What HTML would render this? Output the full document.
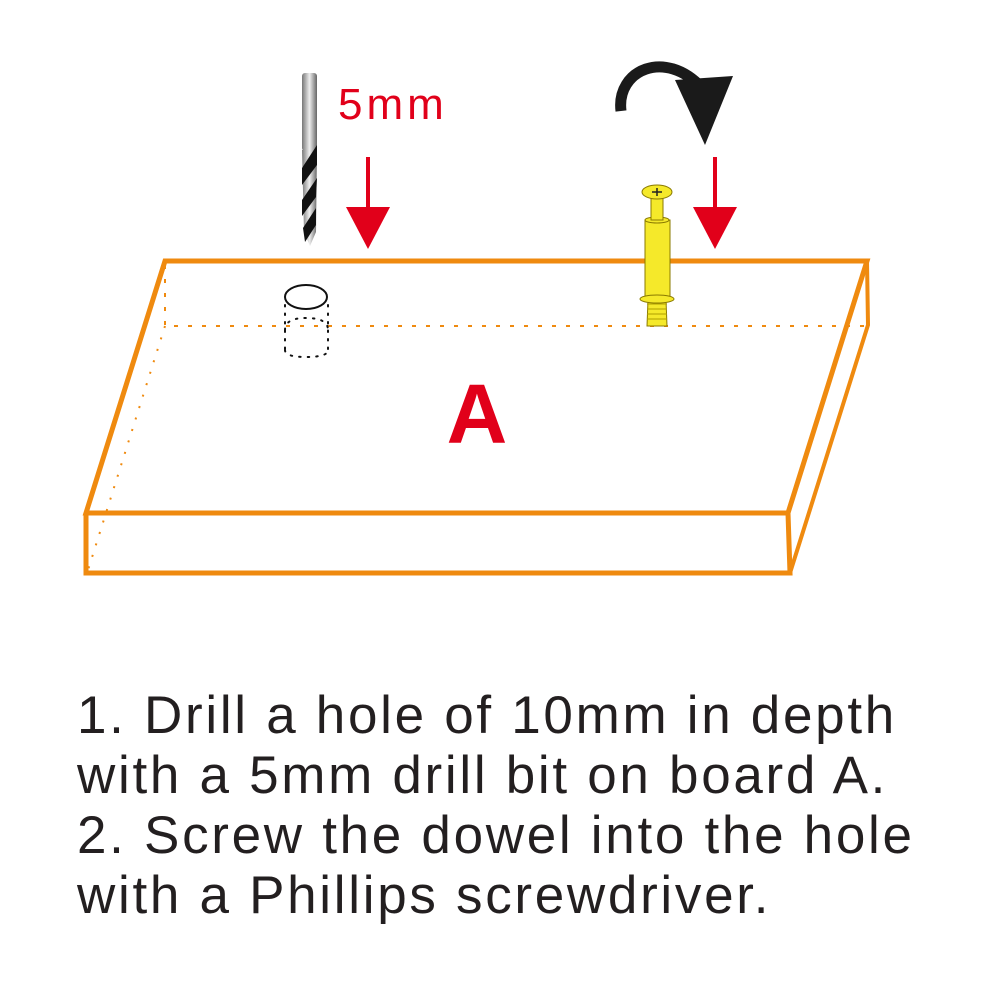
<!DOCTYPE html>
<html><head><meta charset="utf-8"><style>
html,body{margin:0;padding:0;background:#fff;}
body{width:1000px;height:1000px;position:relative;overflow:hidden;}
.t{position:absolute;left:77px;font-family:"Liberation Sans",sans-serif;font-size:53px;line-height:60px;color:#231f20;white-space:nowrap;letter-spacing:2.7px;}
</style></head><body>
<svg width="1000" height="1000" style="position:absolute;left:0;top:0">
<g fill="none" stroke="#ef8a0f" stroke-linejoin="miter">
 <path d="M165 265 L165 326 L867 326" stroke-width="2" stroke-dasharray="4 10"/>
 <path d="M165 326 L88 570" stroke-width="2" stroke-dasharray="2 10"/>
 <path d="M165 261 L867 261 L788 513 L86 513 Z" stroke-width="5"/>
 <path d="M86 513 L86 573 L790 573 L788 513" stroke-width="5"/>
 <path d="M867 261 L868 325 L790 573" stroke-width="4"/>
</g>
<ellipse cx="306" cy="297" rx="21" ry="12" fill="#fff" stroke="#111" stroke-width="2"/>
<g fill="none" stroke="#111" stroke-width="2" stroke-dasharray="1.5 7" stroke-linecap="round">
 <path d="M285 305 L285 350"/><path d="M328 305 L328 350"/>
 <path d="M285 330 Q285 318 306 318 Q328 318 328 330"/>
 <path d="M285 350 Q285 357 306 357 Q328 357 328 350"/>
</g>
<defs><linearGradient id="g" x1="0" x2="1"><stop offset="0" stop-color="#777"/><stop offset="0.5" stop-color="#eee"/><stop offset="1" stop-color="#666"/></linearGradient></defs>
<rect x="302" y="73" width="15" height="78" rx="3" fill="url(#g)"/>
<path d="M302 150 L317 150 L316 232 L310 246 L304 232 Z" fill="url(#g)"/>
<path d="M317 145 L302 168 L302 185 L317 165Z M317 178 L302 200 L302 216 L316 197Z M316 208 L303 228 L305 242 L316 225Z" fill="#111"/>
<text x="338" y="119" font-family="Liberation Sans,sans-serif" font-size="44" letter-spacing="4" fill="#e1001a">5mm</text>
<g fill="#e1001a"><rect x="366" y="157" width="4" height="52"/><path d="M346 207 L390 207 L368 249Z"/>
<rect x="713" y="157" width="4" height="52"/><path d="M693 207 L737 207 L715 249Z"/></g>
<path d="M621 111 C616 70 665 48 702 88" fill="none" stroke="#1a1a1a" stroke-width="11"/>
<path d="M675 80 L733 76 L705 145 Z" fill="#1a1a1a"/>
<g fill="#f5e92a" stroke="#8a7a00" stroke-width="1">
 <path d="M648 300 L666 300 L667 326 L647 326Z"/>
 <path d="M647 304 L667 304 M647 309 L667 309 M647 314 L667 314 M647 319 L667 319" stroke="#b0a000"/>
 <rect x="645" y="220" width="25" height="80"/>
 <ellipse cx="657" cy="220" rx="12" ry="3"/>
 <rect x="651" y="198" width="12" height="22"/>
 <ellipse cx="657" cy="299" rx="17" ry="4"/>
 <ellipse cx="657" cy="192" rx="15" ry="7"/>
</g>
<path d="M652 192 L662 192 M657 188 L657 196" stroke="#222" stroke-width="1.5"/>
<text x="477" y="443" text-anchor="middle" font-family="Liberation Sans,sans-serif" font-weight="bold" font-size="84" fill="#e1001a">A</text>
</svg>
<div class="t" style="top:686px">1. Drill a hole of 10mm in depth</div>
<div class="t" style="top:746px">with a 5mm drill bit on board A.</div>
<div class="t" style="top:806px">2. Screw the dowel into the hole</div>
<div class="t" style="top:866px">with a Phillips screwdriver.</div>
</body></html>
